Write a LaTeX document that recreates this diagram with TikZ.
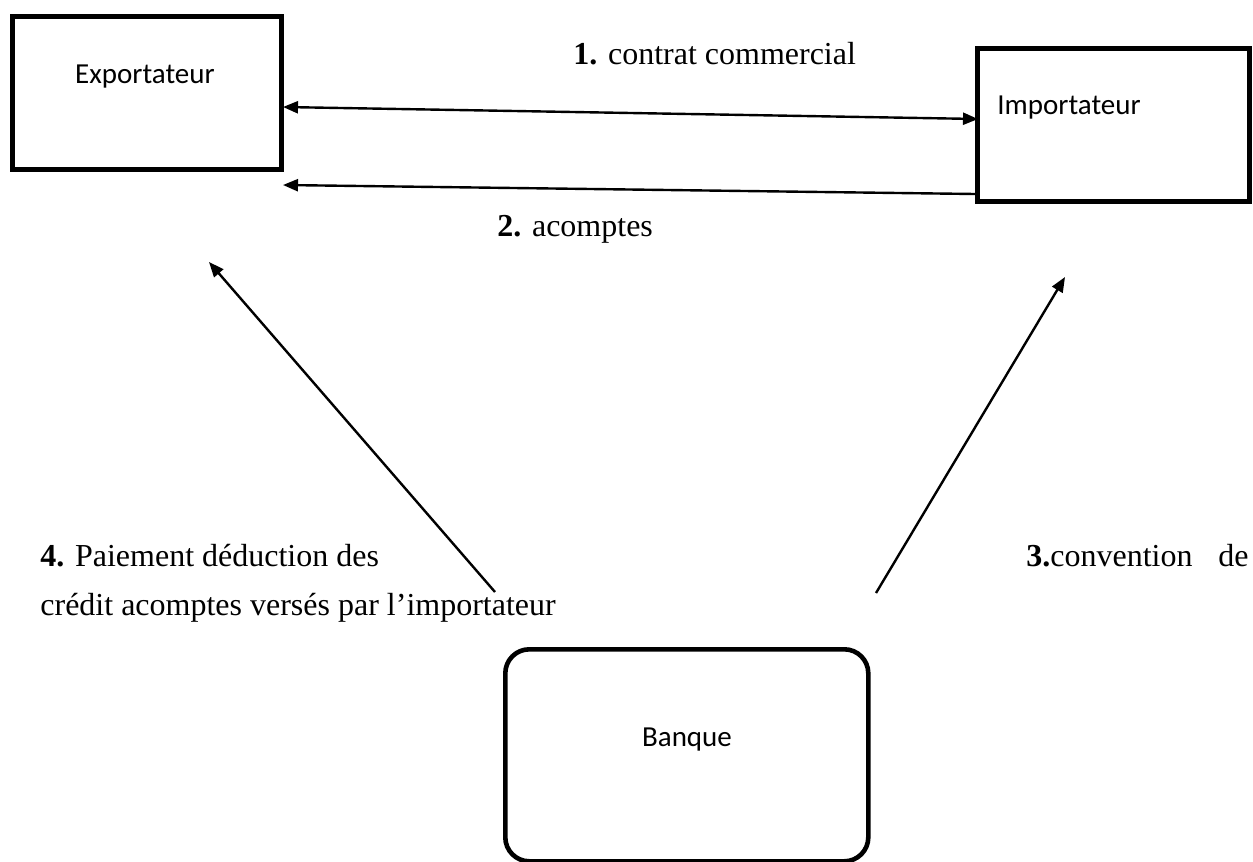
\documentclass[tikz,border=0pt]{standalone}
\usepackage{fontspec}
\setmainfont{Liberation Serif}
\newfontfamily\boxfont{Carlito}
\usetikzlibrary{arrows.meta}

\tikzset{
  party/.style={draw, line width=2.3pt, inner sep=0pt},
  boxtext/.style={font=\boxfont\fontsize{14.5}{17}\selectfont, inner sep=0pt},
  steptext/.style={font=\fontsize{16}{19}\selectfont, inner sep=0pt, anchor=base west},
  flow/.style={line width=1.2pt, -{Triangle[length=7.5pt,width=6pt]}},
}

\begin{document}
\begin{tikzpicture}[x=0.5pt, y=-0.5pt]
    \useasboundingbox (0,0) rectangle (1253,862);

    % Parties
    \node[party, minimum width=134.5pt, minimum height=76.5pt, anchor=north west] (export) at (10,14) {};
    \node[boxtext] (exportname) at (145,77) {Exportateur};

    \node[party, minimum width=136pt, minimum height=76.5pt, anchor=north west] (import) at (975,46) {};
    \node[boxtext, anchor=west] (importname) at (997,108) {Importateur};

    \node[party, rounded corners=12pt, minimum width=181.5pt, minimum height=106pt, anchor=north west] (bank) at (503,647) {};
    \node[boxtext] (bankname) at (687,740) {Banque};

    % Arrow ends
    \coordinate (c1a) at (283,107);
    \coordinate (c1b) at (978,119);
    \coordinate (c2a) at (975,194);
    \coordinate (c2b) at (283,185);
    \coordinate (c4a) at (495,592);
    \coordinate (c4b) at (209,262);
    \coordinate (c3a) at (876,593);
    \coordinate (c3b) at (1065,277);

    % Flows
    \draw[flow, {Triangle[length=7.5pt,width=6pt]}-{Triangle[length=7.5pt,width=6pt]}] (c1a) -- (c1b);
    \draw[flow] (c2a) -- (c2b);
    \draw[flow] (c4a) -- (c4b);
    \draw[flow] (c3a) -- (c3b);

    % Step labels
    \node[steptext] (step1) at (573,64) {\textbf{1.} contrat commercial};
    \node[steptext] (step2) at (497,236) {\textbf{2.} acomptes};
    \node[steptext] (step4) at (40,566) {\textbf{4.} Paiement déduction des};
    \node[steptext] (step4b) at (40,615) {crédit acomptes versés par l’importateur};
    \node[steptext] (step3) at (1026,566) {\textbf{3.}convention};
    \node[steptext] (step3b) at (1218,566) {de};
\end{tikzpicture}
\end{document}
